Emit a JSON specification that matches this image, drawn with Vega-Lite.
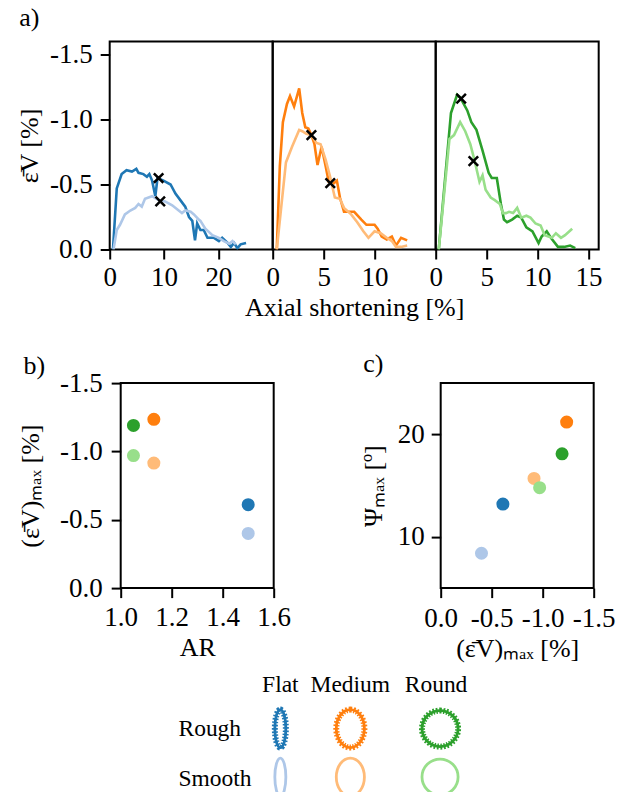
{
  "$schema": "https://vega.github.io/schema/vega-lite/v6.json",
  "padding": {"left": 14.7, "top": 3.5, "right": 0, "bottom": 0},
  "background": "white",
  "config": {
    "font": "Liberation Serif",
    "view": {"stroke": "black", "strokeWidth": 2},
    "axis": {
      "labelFont": "Liberation Serif", "titleFont": "Liberation Serif",
      "labelFontSize": 27, "titleFontSize": 26, "titleFontWeight": "normal",
      "labelColor": "black", "titleColor": "black", "tickColor": "black",
      "domain": false, "grid": false, "tickSize": 9.5, "tickWidth": 2,
      "labelPadding": 5, "titlePadding": 5, "labelOverlap": false, "labelFlush": false
    },
    "title": {"font": "Liberation Serif", "fontSize": 26, "fontWeight": "normal", "anchor": "start", "frame": "bounds", "baseline": "alphabetic", "color": "black"}
  },
  "datasets": {
    "curves": [
      {"shape":"Flat","series":"Flat Rough","x":0.6,"y":0},{"shape":"Flat","series":"Flat Rough","x":1.3,"y":-0.47},{"shape":"Flat","series":"Flat Rough","x":2.2,"y":-0.58},{"shape":"Flat","series":"Flat Rough","x":3.1,"y":-0.61},{"shape":"Flat","series":"Flat Rough","x":4.1,"y":-0.6},{"shape":"Flat","series":"Flat Rough","x":4.9,"y":-0.62},{"shape":"Flat","series":"Flat Rough","x":5.3,"y":-0.59},{"shape":"Flat","series":"Flat Rough","x":6.2,"y":-0.58},{"shape":"Flat","series":"Flat Rough","x":6.85,"y":-0.56},{"shape":"Flat","series":"Flat Rough","x":7.3,"y":-0.58},{"shape":"Flat","series":"Flat Rough","x":7.8,"y":-0.53},{"shape":"Flat","series":"Flat Rough","x":8.4,"y":-0.41},{"shape":"Flat","series":"Flat Rough","x":8.8,"y":-0.55},{"shape":"Flat","series":"Flat Rough","x":9.9,"y":-0.53},{"shape":"Flat","series":"Flat Rough","x":11.2,"y":-0.5},{"shape":"Flat","series":"Flat Rough","x":12.1,"y":-0.43},{"shape":"Flat","series":"Flat Rough","x":13.0,"y":-0.38},{"shape":"Flat","series":"Flat Rough","x":13.9,"y":-0.33},{"shape":"Flat","series":"Flat Rough","x":14.6,"y":-0.25},{"shape":"Flat","series":"Flat Rough","x":15.2,"y":-0.22},{"shape":"Flat","series":"Flat Rough","x":15.7,"y":-0.07},{"shape":"Flat","series":"Flat Rough","x":16.1,"y":-0.2},{"shape":"Flat","series":"Flat Rough","x":16.7,"y":-0.15},{"shape":"Flat","series":"Flat Rough","x":17.3,"y":-0.15},{"shape":"Flat","series":"Flat Rough","x":18.0,"y":-0.09},{"shape":"Flat","series":"Flat Rough","x":19.2,"y":-0.09},{"shape":"Flat","series":"Flat Rough","x":20.1,"y":-0.065},{"shape":"Flat","series":"Flat Rough","x":20.7,"y":-0.09},{"shape":"Flat","series":"Flat Rough","x":21.7,"y":-0.05},{"shape":"Flat","series":"Flat Rough","x":22.3,"y":-0.02},{"shape":"Flat","series":"Flat Rough","x":22.9,"y":-0.05},{"shape":"Flat","series":"Flat Rough","x":23.5,"y":-0.01},{"shape":"Flat","series":"Flat Rough","x":24.1,"y":-0.04},{"shape":"Flat","series":"Flat Rough","x":25.1,"y":-0.05},
      {"shape":"Flat","series":"Flat Smooth","x":0.7,"y":0},{"shape":"Flat","series":"Flat Smooth","x":1.3,"y":-0.15},{"shape":"Flat","series":"Flat Smooth","x":1.9,"y":-0.19},{"shape":"Flat","series":"Flat Smooth","x":2.8,"y":-0.27},{"shape":"Flat","series":"Flat Smooth","x":3.8,"y":-0.3},{"shape":"Flat","series":"Flat Smooth","x":4.7,"y":-0.32},{"shape":"Flat","series":"Flat Smooth","x":5.3,"y":-0.35},{"shape":"Flat","series":"Flat Smooth","x":5.9,"y":-0.33},{"shape":"Flat","series":"Flat Smooth","x":6.5,"y":-0.39},{"shape":"Flat","series":"Flat Smooth","x":7.8,"y":-0.41},{"shape":"Flat","series":"Flat Smooth","x":9.0,"y":-0.38},{"shape":"Flat","series":"Flat Smooth","x":10.2,"y":-0.37},{"shape":"Flat","series":"Flat Smooth","x":11.5,"y":-0.34},{"shape":"Flat","series":"Flat Smooth","x":12.7,"y":-0.3},{"shape":"Flat","series":"Flat Smooth","x":13.3,"y":-0.28},{"shape":"Flat","series":"Flat Smooth","x":13.9,"y":-0.3},{"shape":"Flat","series":"Flat Smooth","x":14.9,"y":-0.29},{"shape":"Flat","series":"Flat Smooth","x":15.5,"y":-0.27},{"shape":"Flat","series":"Flat Smooth","x":16.4,"y":-0.23},{"shape":"Flat","series":"Flat Smooth","x":16.7,"y":-0.22},{"shape":"Flat","series":"Flat Smooth","x":17.6,"y":-0.16},{"shape":"Flat","series":"Flat Smooth","x":18.9,"y":-0.11},{"shape":"Flat","series":"Flat Smooth","x":20.1,"y":-0.09},{"shape":"Flat","series":"Flat Smooth","x":21.0,"y":-0.065},{"shape":"Flat","series":"Flat Smooth","x":22.0,"y":-0.045},{"shape":"Flat","series":"Flat Smooth","x":22.6,"y":-0.065},{"shape":"Flat","series":"Flat Smooth","x":23.2,"y":-0.04},
      {"shape":"Medium","series":"Medium Rough","x":0.4,"y":0},{"shape":"Medium","series":"Medium Rough","x":0.7,"y":-0.64},{"shape":"Medium","series":"Medium Rough","x":1.0,"y":-0.98},{"shape":"Medium","series":"Medium Rough","x":1.4,"y":-1.12},{"shape":"Medium","series":"Medium Rough","x":1.7,"y":-1.18},{"shape":"Medium","series":"Medium Rough","x":2.1,"y":-1.1},{"shape":"Medium","series":"Medium Rough","x":2.6,"y":-1.24},{"shape":"Medium","series":"Medium Rough","x":2.9,"y":-1.05},{"shape":"Medium","series":"Medium Rough","x":3.2,"y":-0.94},{"shape":"Medium","series":"Medium Rough","x":3.5,"y":-0.93},{"shape":"Medium","series":"Medium Rough","x":3.8,"y":-0.88},{"shape":"Medium","series":"Medium Rough","x":4.1,"y":-0.81},{"shape":"Medium","series":"Medium Rough","x":4.4,"y":-0.65},{"shape":"Medium","series":"Medium Rough","x":4.8,"y":-0.79},{"shape":"Medium","series":"Medium Rough","x":5.2,"y":-0.64},{"shape":"Medium","series":"Medium Rough","x":5.5,"y":-0.52},{"shape":"Medium","series":"Medium Rough","x":6.0,"y":-0.51},{"shape":"Medium","series":"Medium Rough","x":6.3,"y":-0.53},{"shape":"Medium","series":"Medium Rough","x":6.6,"y":-0.4},{"shape":"Medium","series":"Medium Rough","x":7.0,"y":-0.29},{"shape":"Medium","series":"Medium Rough","x":7.5,"y":-0.29},{"shape":"Medium","series":"Medium Rough","x":8.0,"y":-0.29},{"shape":"Medium","series":"Medium Rough","x":8.7,"y":-0.23},{"shape":"Medium","series":"Medium Rough","x":9.2,"y":-0.19},{"shape":"Medium","series":"Medium Rough","x":10.0,"y":-0.19},{"shape":"Medium","series":"Medium Rough","x":10.3,"y":-0.16},{"shape":"Medium","series":"Medium Rough","x":10.7,"y":-0.1},{"shape":"Medium","series":"Medium Rough","x":11.2,"y":-0.077},{"shape":"Medium","series":"Medium Rough","x":11.7,"y":-0.1},{"shape":"Medium","series":"Medium Rough","x":12.1,"y":-0.03},{"shape":"Medium","series":"Medium Rough","x":12.6,"y":-0.09},{"shape":"Medium","series":"Medium Rough","x":13.2,"y":-0.07},
      {"shape":"Medium","series":"Medium Smooth","x":0.4,"y":0},{"shape":"Medium","series":"Medium Smooth","x":1.3,"y":-0.67},{"shape":"Medium","series":"Medium Smooth","x":1.9,"y":-0.79},{"shape":"Medium","series":"Medium Smooth","x":2.6,"y":-0.92},{"shape":"Medium","series":"Medium Smooth","x":2.9,"y":-0.91},{"shape":"Medium","series":"Medium Smooth","x":3.3,"y":-0.89},{"shape":"Medium","series":"Medium Smooth","x":3.8,"y":-0.88},{"shape":"Medium","series":"Medium Smooth","x":4.3,"y":-0.82},{"shape":"Medium","series":"Medium Smooth","x":4.7,"y":-0.81},{"shape":"Medium","series":"Medium Smooth","x":5.2,"y":-0.69},{"shape":"Medium","series":"Medium Smooth","x":5.6,"y":-0.57},{"shape":"Medium","series":"Medium Smooth","x":6.1,"y":-0.4},{"shape":"Medium","series":"Medium Smooth","x":6.6,"y":-0.39},{"shape":"Medium","series":"Medium Smooth","x":7.0,"y":-0.32},{"shape":"Medium","series":"Medium Smooth","x":7.7,"y":-0.27},{"shape":"Medium","series":"Medium Smooth","x":8.3,"y":-0.21},{"shape":"Medium","series":"Medium Smooth","x":8.9,"y":-0.14},{"shape":"Medium","series":"Medium Smooth","x":9.4,"y":-0.09},{"shape":"Medium","series":"Medium Smooth","x":10.0,"y":-0.14},{"shape":"Medium","series":"Medium Smooth","x":10.6,"y":-0.125},{"shape":"Medium","series":"Medium Smooth","x":11.2,"y":-0.09},{"shape":"Medium","series":"Medium Smooth","x":11.7,"y":-0.065},{"shape":"Medium","series":"Medium Smooth","x":12.1,"y":-0.02},{"shape":"Medium","series":"Medium Smooth","x":12.6,"y":-0.02},{"shape":"Medium","series":"Medium Smooth","x":13.2,"y":-0.03},
      {"shape":"Round","series":"Round Rough","x":0.3,"y":0},{"shape":"Round","series":"Round Rough","x":1.5,"y":-1.05},{"shape":"Round","series":"Round Rough","x":2.1,"y":-1.19},{"shape":"Round","series":"Round Rough","x":2.4,"y":-1.17},{"shape":"Round","series":"Round Rough","x":3.1,"y":-1.07},{"shape":"Round","series":"Round Rough","x":3.5,"y":-0.98},{"shape":"Round","series":"Round Rough","x":4.0,"y":-0.92},{"shape":"Round","series":"Round Rough","x":4.6,"y":-0.76},{"shape":"Round","series":"Round Rough","x":5.2,"y":-0.59},{"shape":"Round","series":"Round Rough","x":5.5,"y":-0.55},{"shape":"Round","series":"Round Rough","x":6.0,"y":-0.55},{"shape":"Round","series":"Round Rough","x":6.4,"y":-0.35},{"shape":"Round","series":"Round Rough","x":6.7,"y":-0.23},{"shape":"Round","series":"Round Rough","x":7.0,"y":-0.21},{"shape":"Round","series":"Round Rough","x":7.5,"y":-0.23},{"shape":"Round","series":"Round Rough","x":8.0,"y":-0.26},{"shape":"Round","series":"Round Rough","x":8.4,"y":-0.245},{"shape":"Round","series":"Round Rough","x":8.9,"y":-0.17},{"shape":"Round","series":"Round Rough","x":9.5,"y":-0.14},{"shape":"Round","series":"Round Rough","x":10.1,"y":-0.05},{"shape":"Round","series":"Round Rough","x":10.4,"y":-0.1},{"shape":"Round","series":"Round Rough","x":10.9,"y":-0.14},{"shape":"Round","series":"Round Rough","x":11.4,"y":-0.08},{"shape":"Round","series":"Round Rough","x":12.0,"y":-0.02},{"shape":"Round","series":"Round Rough","x":12.6,"y":-0.02},{"shape":"Round","series":"Round Rough","x":13.2,"y":-0.03},{"shape":"Round","series":"Round Rough","x":13.7,"y":-0.01},
      {"shape":"Round","series":"Round Smooth","x":0.3,"y":0},{"shape":"Round","series":"Round Smooth","x":1.35,"y":-0.85},{"shape":"Round","series":"Round Smooth","x":1.8,"y":-0.88},{"shape":"Round","series":"Round Smooth","x":2.4,"y":-0.98},{"shape":"Round","series":"Round Smooth","x":2.9,"y":-0.91},{"shape":"Round","series":"Round Smooth","x":3.4,"y":-0.81},{"shape":"Round","series":"Round Smooth","x":3.8,"y":-0.69},{"shape":"Round","series":"Round Smooth","x":4.3,"y":-0.52},{"shape":"Round","series":"Round Smooth","x":4.6,"y":-0.57},{"shape":"Round","series":"Round Smooth","x":4.9,"y":-0.46},{"shape":"Round","series":"Round Smooth","x":5.4,"y":-0.4},{"shape":"Round","series":"Round Smooth","x":5.8,"y":-0.38},{"shape":"Round","series":"Round Smooth","x":6.3,"y":-0.35},{"shape":"Round","series":"Round Smooth","x":6.6,"y":-0.28},{"shape":"Round","series":"Round Smooth","x":6.9,"y":-0.28},{"shape":"Round","series":"Round Smooth","x":7.2,"y":-0.29},{"shape":"Round","series":"Round Smooth","x":7.6,"y":-0.28},{"shape":"Round","series":"Round Smooth","x":8.0,"y":-0.32},{"shape":"Round","series":"Round Smooth","x":8.4,"y":-0.245},{"shape":"Round","series":"Round Smooth","x":8.9,"y":-0.26},{"shape":"Round","series":"Round Smooth","x":9.3,"y":-0.245},{"shape":"Round","series":"Round Smooth","x":9.8,"y":-0.2},{"shape":"Round","series":"Round Smooth","x":10.3,"y":-0.185},{"shape":"Round","series":"Round Smooth","x":10.7,"y":-0.11},{"shape":"Round","series":"Round Smooth","x":11.4,"y":-0.09},{"shape":"Round","series":"Round Smooth","x":11.8,"y":-0.125},{"shape":"Round","series":"Round Smooth","x":12.3,"y":-0.09},{"shape":"Round","series":"Round Smooth","x":12.7,"y":-0.11},{"shape":"Round","series":"Round Smooth","x":13.4,"y":-0.16}
    ],
    "markers": [
      {"shape":"Flat","series":"Flat Rough","x":9.0,"y":-0.55},
      {"shape":"Flat","series":"Flat Smooth","x":9.3,"y":-0.37},
      {"shape":"Medium","series":"Medium Rough","x":5.65,"y":-0.51},
      {"shape":"Medium","series":"Medium Smooth","x":3.8,"y":-0.88},
      {"shape":"Round","series":"Round Rough","x":2.5,"y":-1.16},
      {"shape":"Round","series":"Round Smooth","x":3.7,"y":-0.68}
    ],
    "summary": [
      {"series":"Flat Rough","AR":1.5,"emax":-0.61,"psi":13.2},
      {"series":"Flat Smooth","AR":1.5,"emax":-0.4,"psi":8.4},
      {"series":"Medium Rough","AR":1.13,"emax":-1.235,"psi":21.2},
      {"series":"Medium Smooth","AR":1.13,"emax":-0.915,"psi":15.7},
      {"series":"Round Rough","AR":1.05,"emax":-1.19,"psi":18.1},
      {"series":"Round Smooth","AR":1.05,"emax":-0.97,"psi":14.8}
    ],
    "legend": [
      {"kind":"hdr","col":"Flat","row":"hdr","text":"Flat"},
      {"kind":"hdr","col":"Medium","row":"hdr","text":"Medium"},
      {"kind":"hdr","col":"Round","row":"hdr","text":"Round"},
      {"kind":"lbl","col":"lbl","row":"Rough","text":"Rough"},
      {"kind":"lbl","col":"lbl","row":"Smooth","text":"Smooth"},
      {"kind":"sym","col":"Flat","row":"Rough","series":"Flat Rough"},
      {"kind":"sym","col":"Medium","row":"Rough","series":"Medium Rough"},
      {"kind":"sym","col":"Round","row":"Rough","series":"Round Rough"},
      {"kind":"sym","col":"Flat","row":"Smooth","series":"Flat Smooth"},
      {"kind":"sym","col":"Medium","row":"Smooth","series":"Medium Smooth"},
      {"kind":"sym","col":"Round","row":"Smooth","series":"Round Smooth"}
    ]
  },
  "columns": 1,
  "align": "none",
  "spacing": 28.6,
  "concat": [
    {
      "hconcat": [
        {
          "width": 163, "height": 208,
          "title": {"text": "a)", "offset": 10, "dx": 3},
          "layer": [
            {
              "data": {"name": "curves"},
              "transform": [{"filter": "datum.shape === 'Flat'"}],
              "mark": {"type": "line", "strokeWidth": 2.6, "clip": true},
              "encoding": {
                "x": {"field": "x", "type": "quantitative", "scale": {"domain": [0, 30]}, "axis": {"values": [0, 10, 20], "title": null, "labelPadding": 5}},
                "y": {"field": "y", "type": "quantitative", "scale": {"domain": [-1.5, 0], "reverse": true}, "axis": {"values": [0, -0.5, -1, -1.5], "format": ".1f", "labelExpr": "replace(datum.label, '−', '-')", "title": "ε̄V [%]", "labelPadding": 8, "titlePadding": 7.2}},
                "color": {"field": "series", "type": "nominal", "scale": {"domain": ["Flat Rough","Flat Smooth","Medium Rough","Medium Smooth","Round Rough","Round Smooth"], "range": ["#1f77b4","#aec7e8","#ff7f0e","#ffbb78","#2ca02c","#98df8a"]}, "legend": null}
              }
            },
            {
              "data": {"name": "markers"},
              "transform": [{"filter": "datum.shape === 'Flat'"}],
              "mark": {"type": "point", "shape": "M-1,-1L1,1M-1,1L1,-1", "size": 90, "stroke": "black", "strokeWidth": 2.5, "filled": false, "opacity": 1},
              "encoding": {"x": {"field": "x", "type": "quantitative"}, "y": {"field": "y", "type": "quantitative"}}
            }
          ]
        },
        {
          "width": 163, "height": 208,
          "layer": [
            {
              "data": {"name": "curves"},
              "transform": [{"filter": "datum.shape === 'Medium'"}],
              "mark": {"type": "line", "strokeWidth": 2.6, "clip": true},
              "encoding": {
                "x": {"field": "x", "type": "quantitative", "scale": {"domain": [0, 15]}, "axis": {"values": [0, 5, 10], "title": "Axial shortening [%]", "labelPadding": 5, "titlePadding": 4}},
                "y": {"field": "y", "type": "quantitative", "scale": {"domain": [-1.5, 0], "reverse": true}, "axis": null},
                "color": {"field": "series", "type": "nominal", "scale": {"domain": ["Flat Rough","Flat Smooth","Medium Rough","Medium Smooth","Round Rough","Round Smooth"], "range": ["#1f77b4","#aec7e8","#ff7f0e","#ffbb78","#2ca02c","#98df8a"]}, "legend": null}
              }
            },
            {
              "data": {"name": "markers"},
              "transform": [{"filter": "datum.shape === 'Medium'"}],
              "mark": {"type": "point", "shape": "M-1,-1L1,1M-1,1L1,-1", "size": 90, "stroke": "black", "strokeWidth": 2.5, "filled": false, "opacity": 1},
              "encoding": {"x": {"field": "x", "type": "quantitative"}, "y": {"field": "y", "type": "quantitative"}}
            }
          ]
        },
        {
          "width": 163, "height": 208,
          "layer": [
            {
              "data": {"name": "curves"},
              "transform": [{"filter": "datum.shape === 'Round'"}],
              "mark": {"type": "line", "strokeWidth": 2.6, "clip": true},
              "encoding": {
                "x": {"field": "x", "type": "quantitative", "scale": {"domain": [0, 15]}, "axis": {"values": [0, 5, 10, 15], "title": null, "labelPadding": 5}},
                "y": {"field": "y", "type": "quantitative", "scale": {"domain": [-1.5, 0], "reverse": true}, "axis": null},
                "color": {"field": "series", "type": "nominal", "scale": {"domain": ["Flat Rough","Flat Smooth","Medium Rough","Medium Smooth","Round Rough","Round Smooth"], "range": ["#1f77b4","#aec7e8","#ff7f0e","#ffbb78","#2ca02c","#98df8a"]}, "legend": null}
              }
            },
            {
              "data": {"name": "markers"},
              "transform": [{"filter": "datum.shape === 'Round'"}],
              "mark": {"type": "point", "shape": "M-1,-1L1,1M-1,1L1,-1", "size": 90, "stroke": "black", "strokeWidth": 2.5, "filled": false, "opacity": 1},
              "encoding": {"x": {"field": "x", "type": "quantitative"}, "y": {"field": "y", "type": "quantitative"}}
            }
          ]
        }
      ],
      "spacing": 0,
      "bounds": "flush"
    },
    {
      "columns": 1,
      "align": "none",
      "spacing": 10,
      "concat": [
        {
          "hconcat": [
            {
              "width": 10.2, "height": 1,
              "view": {"stroke": null},
              "data": {"values": []},
              "mark": "point"
            },
            {
              "hconcat": [
                {
                  "width": 153, "height": 205,
                  "title": {"text": "b)", "offset": -9.5, "dx": 6},
                  "data": {"name": "summary"},
                  "mark": {"type": "circle", "size": 170, "opacity": 1},
                  "encoding": {
                    "x": {"field": "AR", "type": "quantitative", "scale": {"domain": [1.0, 1.6]}, "axis": {"values": [1.0, 1.2, 1.4, 1.6], "format": ".1f", "title": "AR", "labelPadding": 6.7, "titlePadding": 4}},
                    "y": {"field": "emax", "type": "quantitative", "scale": {"domain": [-1.5, 0], "reverse": true}, "axis": {"values": [0, -0.5, -1, -1.5], "format": ".1f", "labelExpr": "replace(datum.label, '−', '-')", "title": "(ε̄V)ₘₐₓ [%]", "labelPadding": 9, "titlePadding": 16}},
                    "color": {"field": "series", "type": "nominal", "scale": {"domain": ["Flat Rough","Flat Smooth","Medium Rough","Medium Smooth","Round Rough","Round Smooth"], "range": ["#1f77b4","#aec7e8","#ff7f0e","#ffbb78","#2ca02c","#98df8a"]}, "legend": null}
                  }
                },
                {
                  "width": 153, "height": 205,
                  "title": {"text": "c)", "offset": 6, "dx": 3},
                  "data": {"name": "summary"},
                  "mark": {"type": "circle", "size": 170, "opacity": 1},
                  "encoding": {
                    "x": {"field": "emax", "type": "quantitative", "scale": {"domain": [-1.5, 0], "reverse": true}, "axis": {"values": [0, -0.5, -1, -1.5], "format": ".1f", "labelExpr": "replace(datum.label, '−', '-')", "title": "(ε̄V)ₘₐₓ [%]", "labelPadding": 8, "titlePadding": 4}},
                    "y": {"field": "psi", "type": "quantitative", "scale": {"domain": [5, 25]}, "axis": {"values": [10, 20], "title": "Ψₘₐₓ [º]", "labelPadding": 7, "titlePadding": 11}},
                    "color": {"field": "series", "type": "nominal", "scale": {"domain": ["Flat Rough","Flat Smooth","Medium Rough","Medium Smooth","Round Rough","Round Smooth"], "range": ["#1f77b4","#aec7e8","#ff7f0e","#ffbb78","#2ca02c","#98df8a"]}, "legend": null}
                  }
                }
              ],
              "spacing": 167,
              "bounds": "flush"
            }
          ],
          "spacing": 0,
          "bounds": "flush"
        },
        {
          "hconcat": [
            {
              "width": 135.65, "height": 97,
              "view": {"stroke": null},
              "data": {"name": "legend"},
              "transform": [{"filter": "datum.kind === 'lbl'"}],
              "encoding": {
                "x": {"field": "col", "type": "nominal", "scale": {"type": "point", "domain": ["lbl"], "align": 0.507, "padding": 0}, "axis": null},
                "y": {"field": "row", "type": "nominal", "scale": {"type": "point", "domain": ["hdr", "Rough", "Smooth"], "padding": 0}, "axis": null},
                "text": {"field": "text"}
              },
              "layer": [
                {"transform": [{"filter": "datum.row === 'Rough'"}], "mark": {"type": "text", "font": "Liberation Serif", "fontSize": 23.5, "align": "left", "baseline": "middle", "dy": 0, "color": "black"}},
                {"transform": [{"filter": "datum.row === 'Smooth'"}], "mark": {"type": "text", "font": "Liberation Serif", "fontSize": 23.5, "align": "left", "baseline": "middle", "dy": 2, "color": "black"}}
              ]
            },
            {
              "width": 69.3, "height": 97,
              "view": {"stroke": null},
              "data": {"name": "legend"},
              "transform": [{"filter": "datum.col === 'Flat'"}],
              "encoding": {
                "x": {"field": "col", "type": "nominal", "scale": {"type": "point", "domain": ["Flat"]}, "axis": null},
                "y": {"field": "row", "type": "nominal", "scale": {"type": "point", "domain": ["hdr", "Rough", "Smooth"], "padding": 0}, "axis": null}
              },
              "layer": [
                {"transform": [{"filter": "datum.kind === 'hdr'"}], "mark": {"type": "text", "font": "Liberation Serif", "fontSize": 23.5, "align": "center", "baseline": "middle", "dy": 5, "color": "black"}, "encoding": {"text": {"field": "text"}}},
                {"transform": [{"filter": "datum.kind === 'sym' && datum.row === 'Rough'"}], "mark": {"type": "point", "shape": "M0,-1C0.16,-1,0.29,-0.552,0.29,0C0.29,0.552,0.16,1,0,1C-0.16,1,-0.29,0.552,-0.29,0C-0.29,-0.552,-0.16,-1,0,-1Z", "size": 1444, "filled": false, "strokeWidth": 6, "strokeDash": [1.6, 1.6], "opacity": 1}, "encoding": {"color": {"field": "series", "type": "nominal", "scale": {"domain": ["Flat Rough","Flat Smooth","Medium Rough","Medium Smooth","Round Rough","Round Smooth"], "range": ["#1f77b4","#aec7e8","#ff7f0e","#ffbb78","#2ca02c","#98df8a"]}, "legend": null}}},
                {"transform": [{"filter": "datum.kind === 'sym'"}], "mark": {"type": "point", "shape": "M0,-1C0.16,-1,0.29,-0.552,0.29,0C0.29,0.552,0.16,1,0,1C-0.16,1,-0.29,0.552,-0.29,0C-0.29,-0.552,-0.16,-1,0,-1Z", "size": 1444, "filled": false, "strokeWidth": 2.8, "opacity": 1}, "encoding": {"color": {"field": "series", "type": "nominal", "scale": {"domain": ["Flat Rough","Flat Smooth","Medium Rough","Medium Smooth","Round Rough","Round Smooth"], "range": ["#1f77b4","#aec7e8","#ff7f0e","#ffbb78","#2ca02c","#98df8a"]}, "legend": null}}}
              ]
            },
            {
              "width": 69.3, "height": 97,
              "view": {"stroke": null},
              "data": {"name": "legend"},
              "transform": [{"filter": "datum.col === 'Medium'"}],
              "encoding": {
                "x": {"field": "col", "type": "nominal", "scale": {"type": "point", "domain": ["Medium"]}, "axis": null},
                "y": {"field": "row", "type": "nominal", "scale": {"type": "point", "domain": ["hdr", "Rough", "Smooth"], "padding": 0}, "axis": null}
              },
              "layer": [
                {"transform": [{"filter": "datum.kind === 'hdr'"}], "mark": {"type": "text", "font": "Liberation Serif", "fontSize": 23.5, "align": "center", "baseline": "middle", "dy": 5, "color": "black"}, "encoding": {"text": {"field": "text"}}},
                {"transform": [{"filter": "datum.kind === 'sym' && datum.row === 'Rough'"}], "mark": {"type": "point", "shape": "M0,-1C0.409,-1,0.74,-0.552,0.74,0C0.74,0.552,0.409,1,0,1C-0.409,1,-0.74,0.552,-0.74,0C-0.74,-0.552,-0.409,-1,0,-1Z", "size": 1444, "filled": false, "strokeWidth": 6, "strokeDash": [1.6, 1.6], "opacity": 1}, "encoding": {"color": {"field": "series", "type": "nominal", "scale": {"domain": ["Flat Rough","Flat Smooth","Medium Rough","Medium Smooth","Round Rough","Round Smooth"], "range": ["#1f77b4","#aec7e8","#ff7f0e","#ffbb78","#2ca02c","#98df8a"]}, "legend": null}}},
                {"transform": [{"filter": "datum.kind === 'sym'"}], "mark": {"type": "point", "shape": "M0,-1C0.409,-1,0.74,-0.552,0.74,0C0.74,0.552,0.409,1,0,1C-0.409,1,-0.74,0.552,-0.74,0C-0.74,-0.552,-0.409,-1,0,-1Z", "size": 1444, "filled": false, "strokeWidth": 2.8, "opacity": 1}, "encoding": {"color": {"field": "series", "type": "nominal", "scale": {"domain": ["Flat Rough","Flat Smooth","Medium Rough","Medium Smooth","Round Rough","Round Smooth"], "range": ["#1f77b4","#aec7e8","#ff7f0e","#ffbb78","#2ca02c","#98df8a"]}, "legend": null}}}
              ]
            },
            {
              "width": 108.7, "height": 97,
              "view": {"stroke": null},
              "data": {"name": "legend"},
              "transform": [{"filter": "datum.col === 'Round'"}],
              "encoding": {
                "x": {"field": "col", "type": "nominal", "scale": {"type": "point", "domain": ["Round"]}, "axis": null},
                "y": {"field": "row", "type": "nominal", "scale": {"type": "point", "domain": ["hdr", "Rough", "Smooth"], "padding": 0}, "axis": null}
              },
              "layer": [
                {"transform": [{"filter": "datum.kind === 'hdr'"}], "mark": {"type": "text", "font": "Liberation Serif", "fontSize": 23.5, "align": "center", "baseline": "middle", "dy": 5, "dx": -4, "color": "black"}, "encoding": {"text": {"field": "text"}}},
                {"transform": [{"filter": "datum.kind === 'sym' && datum.row === 'Rough'"}], "mark": {"type": "point", "shape": "M0,-0.95C0.525,-0.95,0.95,-0.525,0.95,0C0.95,0.525,0.525,0.95,0,0.95C-0.525,0.95,-0.95,0.525,-0.95,0C-0.95,-0.525,-0.525,-0.95,0,-0.95Z", "size": 1444, "filled": false, "strokeWidth": 6, "strokeDash": [1.6, 1.6], "opacity": 1}, "encoding": {"color": {"field": "series", "type": "nominal", "scale": {"domain": ["Flat Rough","Flat Smooth","Medium Rough","Medium Smooth","Round Rough","Round Smooth"], "range": ["#1f77b4","#aec7e8","#ff7f0e","#ffbb78","#2ca02c","#98df8a"]}, "legend": null}}},
                {"transform": [{"filter": "datum.kind === 'sym'"}], "mark": {"type": "point", "shape": "M0,-0.95C0.525,-0.95,0.95,-0.525,0.95,0C0.95,0.525,0.525,0.95,0,0.95C-0.525,0.95,-0.95,0.525,-0.95,0C-0.95,-0.525,-0.525,-0.95,0,-0.95Z", "size": 1444, "filled": false, "strokeWidth": 2.8, "opacity": 1}, "encoding": {"color": {"field": "series", "type": "nominal", "scale": {"domain": ["Flat Rough","Flat Smooth","Medium Rough","Medium Smooth","Round Rough","Round Smooth"], "range": ["#1f77b4","#aec7e8","#ff7f0e","#ffbb78","#2ca02c","#98df8a"]}, "legend": null}}}
              ]
            }
          ],
          "spacing": 0,
          "bounds": "flush"
        }
      ]
    }
  ]
}
